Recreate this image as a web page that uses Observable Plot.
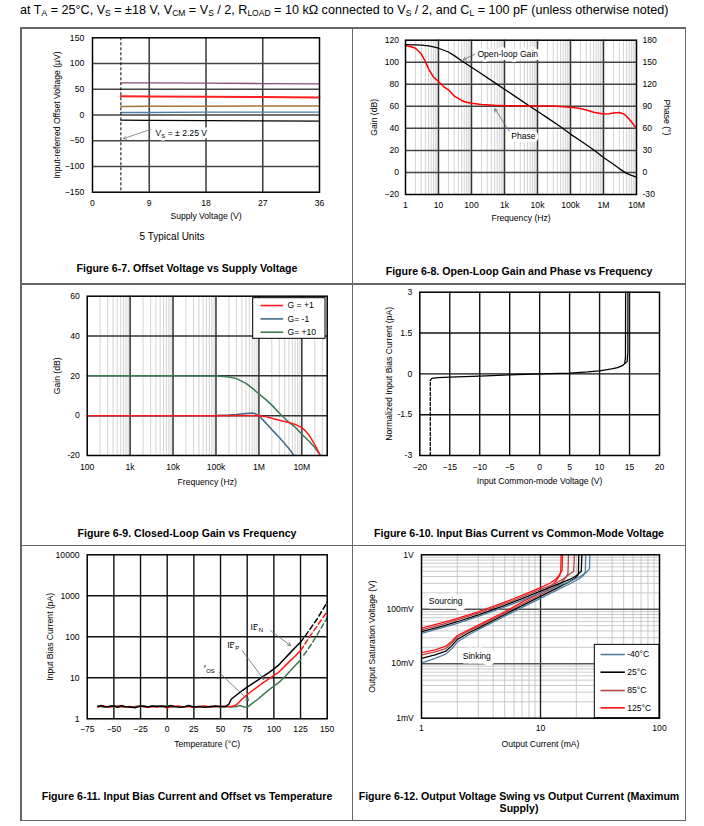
<!DOCTYPE html>
<html><head><meta charset="utf-8">
<script src="https://cdn.jsdelivr.net/npm/d3@7"></script>
<script src="https://cdn.jsdelivr.net/npm/@observablehq/plot@0.6"></script>
<style>
body{margin:0;background:#fff;}
#page{position:relative;width:704px;height:826px;overflow:hidden;font-family:"Liberation Sans",Arial,sans-serif;color:#000;background:#fff;}
.ln{position:absolute;background:#666;z-index:5;}
.cap{position:absolute;font-weight:bold;font-size:10.6px;text-align:center;line-height:12.5px;white-space:nowrap;}
.hdr{position:absolute;left:20px;top:3px;font-size:12.6px;line-height:15px;white-space:nowrap;}
.hdr sub{font-size:8.5px;vertical-align:-2px;line-height:0;}
.note{position:absolute;font-size:10px;text-align:center;white-space:nowrap;}
</style></head><body><div id="page"></div>
<script>
// ---------- Fig 6-7: Offset voltage vs supply voltage ----------
const p1Supply = [4.5, 9, 18, 27, 36];
const p1Unit1 = [62.5, 62.5, 62, 61, 60.5];
const p1Unit2 = [36.5, 36, 35.5, 35, 34];
const p1Unit3 = [16.5, 17, 17, 17.5, 17.5];
const p1Unit4 = [5, 5, 5.5, 5.5, 5.5];
const p1Unit5 = [-10, -10.5, -11, -11.5, -12];
const p1XTicks = [0, 9, 18, 27, 36];
const p1YTicks = [-150, -100, -50, 0, 50, 100, 150];
const p1YLabels = ["−150", "−100", "−50", "0", "50", "100", "150"];
const p1GridX = [9, 18, 27];
const p1GridY = [-100, -50, 0, 50, 100];
const p1Arrow = [{x1: 9.2, y1: -28, x2: 4.9, y2: -46}];
const p1Note = [{x: 10, y: -35, t: "V_S = ± 2.25 V"}];

// ---------- Fig 6-8: Open-loop gain and phase ----------
const olFreq = [1,2,3,5,7,10,20,30,50,100,200,500,1e3,2e3,5e3,1e4,2e4,5e4,1e5,2e5,5e5,1e6,2e6,3e6,5e6,7e6,1e7];
const olGain = [116,115.8,115.6,114.9,114,112.7,109.3,106,101.4,95.5,89.5,81.5,75.5,69.5,61.5,55.5,49.5,41.5,34.8,28.7,20.6,13.5,7.5,3.5,-0.8,-2.7,-4.3];
const phFreq = [1,1.5,2,3,4,5,7,10,15,20,30,50,70,100,200,500,1e3,1e4,3e4,1e5,2e5,3e5,5e5,1e6,1.5e6,2e6,3e6,4e6,5e6,7e6,1e7];
const phDeg = [172.8,171,169,161.5,151,141,130,123.7,116,112.5,104,98,95.5,94.2,92.5,91.3,90.8,90.5,90.3,88.8,87,85,82,79.5,79.8,81,81.5,80,76.5,69,60];
const p2XTicks = [1,10,100,1e3,1e4,1e5,1e6,1e7];
const p2XLabels = ["1","10","100","1k","10k","100k","1M","10M"];
const p2GainTicks = [-20,0,20,40,60,80,100,120];
const p2GainLabels = ["−20","0","20","40","60","80","100","120"];
const p2PhaseLabels = ["-30","0","30","60","90","120","150","180"];
const p2Decades = [1,10,100,1e3,1e4,1e5,1e6];
const minorSteps = [2,3,4,5,6,7,8,9];
const p2GridY = [0,20,40,60,80,100];
const p2Notes = [{x: 151, y: 107.7, t: "Open-loop Gain"}, {x: 1600, y: 32.6, t: "Phase"}];
const p2Arrows = [{x1: 138, y1: 107.9, x2: 56, y2: 102.2}, {x1: 1420, y1: 37.2, x2: 508, y2: 57.7}];

// ---------- Fig 6-9: Closed-loop gain ----------
const g10Freq = [100,1e3,1e4,1e5,1.5e5,2e5,3e5,5e5,7e5,1e6,1.5e6,2e6,3e6,5e6,7e6,1e7,1.5e7,2e7,2.7e7];
const g10Gain = [20,20,20,19.9,19.7,19.4,18.6,16.2,13.8,11,7.8,5.3,1.2,-3.3,-5.8,-9.3,-13,-16,-20];
const g1Freq = [100,1e3,1e4,1e5,5e5,1e6,1.5e6,2e6,3e6,5e6,7e6,1e7,1.2e7,1.5e7,2e7,2.7e7];
const g1Gain = [0,0,0,0,0.1,0,-0.6,-1.3,-2.3,-3.4,-4.4,-6,-7.5,-10,-14.5,-20];
const gm1Freq = [100,1e3,1e4,1e5,2e5,3e5,5e5,7e5,8e5,1e6,1.5e6,2e6,3e6,5e6,6.6e6];
const gm1Gain = [0,0,0,0.1,0.3,0.6,1.1,1.3,1.1,0,-4,-7,-11,-16.5,-20];
const p3Names = ["G = +1", "G= -1", "G= +10"];
const p3XTicks = [100,1e3,1e4,1e5,1e6,1e7];
const p3XLabels = ["100","1k","10k","100k","1M","10M"];
const p3YTicks = [-20,0,20,40,60];
const p3YLabels = ["-20","0","20","40","60"];
const p3Decades = [100,1e3,1e4,1e5,1e6,1e7];
const p3GridY = [0,20,40];

// ---------- Fig 6-10: Input bias current vs common-mode voltage ----------
const ibDashV = [-18.25, -18.25];
const ibDashI = [-3, -0.25];
const ibV = [-18.25,-18.0,-17,-15,-10,-5,0,5,8,10,12,13,13.8,14.2,14.32,14.35];
const ibI = [-0.25,-0.17,-0.14,-0.12,-0.08,-0.04,0,0.03,0.07,0.11,0.18,0.23,0.3,0.38,0.6,3.2];
const ibV2 = [14.2,14.6,14.72,14.73];
const ibI2 = [0.38,0.45,0.8,3.2];
const p4XTicks = [-20,-15,-10,-5,0,5,10,15,20];
const p4XLabels = ["−20","−15","−10","−5","0","5","10","15","20"];
const p4YTicks = [-3,-1.5,0,1.5,3];
const p4YLabels = ["-3","-1.5","0","1.5","3"];
const p4GridX = [-15,-10,-5,0,5,10,15];
const p4GridY = [-1.5,0,1.5];

// ---------- Fig 6-11: Input bias current vs temperature ----------
const ibnT = [-65,-62,-58,-55,-50,-47,-43,-40,-35,-30,-27,-22,-18,-14,-10,-5,0,3,7,12,17,20,25,30,35,40,45,50,55,58,60,65,70,75,80,85,90,95,100,105,110,115,120,125];
const ibnV = [2.0,2.1,1.95,2.0,2.05,1.9,2.1,2.0,1.95,1.85,2.0,2.05,1.95,2.05,2.0,2.05,1.95,2.1,2.0,1.9,2.0,2.1,1.95,2.0,1.9,2.0,2.05,2.0,2.0,2.3,3.0,3.8,4.8,5.9,7.2,8.8,10.8,13.2,16.5,21,29,40,55,74];
const ibnTd = [125,130,135,140,145,150];
const ibnVd = [74,110,170,260,420,700];
const ibpT = [-65,-60,-55,-50,-45,-40,-35,-30,-25,-20,-15,-10,-5,0,5,10,15,20,25,30,35,40,45,50,55,60,62,65,70,75,80,85,90,95,100,105,110,115,120,125];
const ibpV = [1.95,2.1,1.9,2.0,2.05,1.95,2.0,1.9,2.05,1.95,2.0,1.95,2.05,1.85,2.0,2.05,1.95,2.0,1.9,2.0,2.05,1.95,2.0,2.0,2.0,2.0,2.05,2.2,3.0,3.9,4.9,6.1,7.6,9.3,11.4,14,19,25.5,34,46];
const ibpTd = [125,130,135,140,145,150];
const ibpVd = [46,72,115,175,270,420];
const iosT = [-65,-60,-55,-50,-45,-40,-35,-30,-25,-20,-15,-10,-5,0,5,10,15,20,25,30,35,40,45,50,55,60,65,68,72,75,80,85,90,95,100,105,110,115,120,125];
const iosV = [2.05,1.95,2.0,2.1,1.95,2.0,1.9,2.0,2.05,1.95,2.0,2.05,1.95,2.1,1.95,2.0,1.95,2.05,1.9,1.95,2.0,1.9,2.0,1.95,2.0,1.95,2.0,2.1,1.95,1.9,2.4,3.0,3.9,5.0,6.3,7.8,10.5,14.5,20,27];
const iosTd = [128,130,135,140,145,150];
const iosVd = [36,42,65,105,175,290];
const p5XTicks = [-75,-50,-25,0,25,50,75,100,125,150];
const p5XLabels = ["−75","−50","−25","0","25","50","75","100","125","150"];
const p5YTicks = [1,10,100,1000,10000];
const p5YLabels = ["1","10","100","1000","10000"];
const p5GridX = [-50,-25,0,25,50,75,100,125];
const p5GridY = [10,100,1000];
const p5Notes = [{x: 78.1, y: 171, t: "IB_N"}, {x: 56.2, y: 61, t: "IB_P"}, {x: 34.3, y: 17.1, t: "I_OS"}];
const p5Arrows = [{x1: 96.8, y1: 142, x2: 115.6, y2: 61}, {x1: 70.3, y1: 46, x2: 90.6, y2: 9.1}, {x1: 48.4, y1: 13.7, x2: 76.5, y2: 2.8}];

// ---------- Fig 6-12: Output voltage swing vs output current ----------
const tempNames = ["-40°C", "25°C", "85°C", "125°C"];
const srcM40 = [[1,0.036],[1.5,0.046],[2,0.055],[3,0.074],[5,0.11],[7,0.146],[10,0.2],[14,0.27],[18,0.33],[21.5,0.4],[24.5,0.48],[25.8,0.55],[26,1.05]];
const src25 = [[1,0.039],[1.5,0.049],[2,0.059],[3,0.079],[5,0.118],[7,0.157],[10,0.215],[14,0.29],[18,0.36],[20.5,0.43],[22,0.5],[22.3,1.05]];
const src85 = [[1,0.042],[1.5,0.053],[2,0.064],[3,0.085],[5,0.127],[7,0.168],[10,0.232],[13,0.29],[15.5,0.36],[17.5,0.44],[19,0.5],[19.3,1.05]];
const src125 = [[1,0.045],[1.5,0.057],[2,0.068],[3,0.09],[5,0.135],[7,0.18],[10,0.25],[12,0.3],[13.5,0.36],[14.5,0.43],[15.2,0.52],[15.3,1.05]];
const snkM40 = [[1,0.0103],[1.3,0.0125],[1.6,0.015],[1.8,0.019],[2,0.025],[2.5,0.034],[3,0.042],[5,0.075],[7,0.108],[10,0.158],[14,0.23],[18,0.3],[21,0.36],[23,0.42],[23.8,0.48],[24,1.05]];
const snk25 = [[1,0.0125],[1.3,0.0145],[1.6,0.017],[1.8,0.0215],[2,0.028],[2.5,0.037],[3,0.045],[5,0.08],[7,0.117],[10,0.172],[14,0.25],[17,0.31],[19.5,0.37],[20.8,0.44],[21,1.05]];
const snk85 = [[1,0.0145],[1.3,0.0165],[1.6,0.019],[1.8,0.024],[2,0.031],[2.5,0.04],[3,0.048],[5,0.085],[7,0.125],[10,0.185],[13,0.25],[15,0.31],[16.3,0.38],[17,0.45],[17.2,1.05]];
const snk125 = [[1,0.016],[1.3,0.018],[1.6,0.021],[1.8,0.026],[2,0.033],[2.5,0.042],[3,0.051],[5,0.09],[7,0.135],[10,0.2],[12,0.255],[13.5,0.33],[14.5,0.42],[14.8,0.5],[14.9,1.05]];
const p6XTicks = [1,10,100];
const p6XLabels = ["1","10","100"];
const p6YTicks = [0.001,0.01,0.1,1];
const p6YLabels = ["1mV","10mV","100mV","1V"];
const p6DecX = [1,10];
const p6DecY = [0.001,0.01,0.1];
const p6Notes = [{x: 1.15, y: 0.138, t: "Sourcing"}, {x: 2.22, y: 0.0136, t: "Sinking"}];

// ---------- helpers ----------
const page = document.getElementById("page");
const FONT = "'Liberation Sans', Arial, Helvetica, sans-serif";
const rows = (xs, ys) => xs.map((x, i) => ({x, y: ys[i]}));
const pairs = (arr) => arr.map(([x, y]) => ({x, y}));
const minors = (decs) => decs.flatMap(d => minorSteps.map(m => d * m));
const axX = (ticks, labels, pad) => Plot.axisX({ticks, tickFormat: d => labels[ticks.indexOf(d)], tickSize: 0, tickPadding: pad, label: null});
const axY = (ticks, labels, pad, anchor = "left") => Plot.axisY({anchor, ticks, tickFormat: d => labels[ticks.indexOf(d)], tickSize: 0, tickPadding: pad, label: null});
const titleX = (t, dy) => Plot.text([t], {frameAnchor: "bottom", dy, text: d => d, lineAnchor: "middle", textAnchor: "middle"});
const titleY = (t, dx, rot = -90, anchor = "left") => Plot.text([t], {frameAnchor: anchor, dx, rotate: rot, text: d => d, lineAnchor: "middle", textAnchor: "middle"});
const frame = () => Plot.frame({stroke: "#000", strokeWidth: 1.5});

function subify(svg) {
  d3.select(svg).selectAll("text").each(function () {
    const s = this.textContent;
    if (!s.includes("_") || this.querySelector("tspan")) return;
    const parts = s.split(/_([A-Za-z]+)/);
    const el = d3.select(this);
    el.text(null);
    el.append("tspan").text(parts[0]);
    el.append("tspan").attr("dy", 1.8).attr("font-size", 6).text(parts[1]);
    if (parts[2]) el.append("tspan").attr("dy", -1.8).text(parts[2]);
  });
}
function place(opts, left, top) {
  const svg = Plot.plot({...opts, style: {fontFamily: FONT, fontSize: "8.6px", background: "transparent", overflow: "visible", color: "#000"}});
  svg.style.position = "absolute";
  svg.style.left = left + "px";
  svg.style.top = top + "px";
  subify(svg);
  page.append(svg);
}

// ---------- Panel 1 ----------
const p1Series = [p1Unit1, p1Unit2, p1Unit3, p1Unit4, p1Unit5];
const p1Colors = ["#8a4a78", "#ff2020", "#a2743e", "#4d80a3", "#000000"];
const p1Widths = [1.4, 2, 1.4, 1.4, 1.2];
place({
  width: 332, height: 200, marginLeft: 72, marginRight: 33, marginTop: 9.3, marginBottom: 36.3,
  x: {domain: [0, 36]}, y: {domain: [-150, 150]},
  marks: [
    Plot.ruleX(p1GridX, {stroke: "#444", strokeWidth: 1.6}),
    Plot.ruleY(p1GridY, {stroke: "#444", strokeWidth: 1.6}),
    ...p1Series.map((s, i) => Plot.line(rows(p1Supply, s), {x: "x", y: "y", stroke: p1Colors[i], strokeWidth: p1Widths[i]})),
    Plot.ruleX([p1Supply[0]], {stroke: "#000", strokeWidth: 1, strokeDasharray: "3,2"}),
    Plot.arrow(p1Arrow, {x1: "x1", y1: "y1", x2: "x2", y2: "y2", stroke: "#777", strokeWidth: 0.8, headLength: 6}),
    Plot.text(p1Note, {x: "x", y: "y", text: "t", textAnchor: "start", fill: "#000", stroke: "white", strokeWidth: 5}),
    frame(),
    axX(p1XTicks, p1XTicks.map(String), 7.5),
    axY(p1YTicks, p1YLabels, 8.3),
    titleX("Supply Voltage (V)", 24),
    titleY("Input-referred Offset Voltage (µV)", -35)
  ]
}, 20, 28);

// ---------- Panel 2 ----------
const toGain = p => (p + 30) / 1.5 - 20;
place({
  width: 334, height: 200, marginLeft: 53, marginRight: 50, marginTop: 11.7, marginBottom: 34,
  x: {type: "log", domain: [1, 1e7]}, y: {domain: [-20, 120]},
  marks: [
    Plot.ruleX(minors(p2Decades), {stroke: "#c8c8c8", strokeWidth: 0.8}),
    Plot.ruleX(p2XTicks.slice(1, -1), {stroke: "#333", strokeWidth: 1.5}),
    Plot.ruleY(p2GridY, {stroke: "#444", strokeWidth: 1.5}),
    Plot.line(rows(olFreq, olGain), {x: "x", y: "y", stroke: "#000", strokeWidth: 1.3}),
    Plot.line(rows(phFreq, phDeg), {x: "x", y: d => toGain(d.y), stroke: "#ff0000", strokeWidth: 1.5}),
    Plot.arrow(p2Arrows, {x1: "x1", y1: "y1", x2: "x2", y2: "y2", stroke: "#666", strokeWidth: 0.8, headLength: 6}),
    Plot.text(p2Notes, {x: "x", y: "y", text: "t", textAnchor: "start", fill: "#000", stroke: "white", strokeWidth: 6}),
    frame(),
    axX(p2XTicks, p2XLabels, 7),
    axY(p2GainTicks, p2GainLabels, 6.5),
    axY(p2GainTicks, p2PhaseLabels, 6, "right"),
    titleX("Frequency (Hz)", 23.7),
    titleY("Gain (dB)", -31),
    titleY("Phase (°)", 30.7, 90, "right")
  ]
}, 352, 28);

// ---------- Panel 3 ----------
const p3Colors = ["#ff1a1a", "#3f6a8a", "#3a7a55"];
const p3Data = [rows(g1Freq, g1Gain), rows(gm1Freq, gm1Gain), rows(g10Freq, g10Gain)];
const p3LegendRows = [55.3, 48.6, 41.9];
place({
  width: 332, height: 206, marginLeft: 66.7, marginRight: 25.3, marginTop: 11.7, marginBottom: 35,
  x: {type: "log", domain: [100, 3.9e7]}, y: {domain: [-20, 60]},
  marks: [
    Plot.ruleX(minors(p3Decades).filter(v => v < 3.9e7), {stroke: "#c8c8c8", strokeWidth: 0.8}),
    Plot.ruleX(p3XTicks.slice(1), {stroke: "#333", strokeWidth: 1.5}),
    Plot.ruleY(p3GridY, {stroke: "#333", strokeWidth: 1.5}),
    Plot.line(p3Data[2], {x: "x", y: "y", stroke: p3Colors[2], strokeWidth: 1.5, clip: true}),
    Plot.line(p3Data[1], {x: "x", y: "y", stroke: p3Colors[1], strokeWidth: 1.5, clip: true}),
    Plot.line(p3Data[0], {x: "x", y: "y", stroke: p3Colors[0], strokeWidth: 1.5, clip: true}),
    Plot.rect([{x1: 7.36e5, x2: 3.56e7, y1: 59, y2: 38.6}], {x1: "x1", x2: "x2", y1: "y1", y2: "y2", fill: "white", stroke: "#000", strokeWidth: 1}),
    Plot.link(p3Names.map((n, i) => ({x1: 1.09e6, x2: 3.66e6, y: p3LegendRows[i], c: p3Colors[i]})), {x1: "x1", x2: "x2", y1: "y", y2: "y", stroke: "c", strokeWidth: 1.6}),
    Plot.text(p3Names.map((n, i) => ({x: 4.63e6, y: p3LegendRows[i], t: n})), {x: "x", y: "y", text: "t", textAnchor: "start", fill: "#000"}),
    frame(),
    axX(p3XTicks, p3XLabels, 8.5),
    axY(p3YTicks, p3YLabels, 7.4),
    titleX("Frequency (Hz)", 26.7),
    titleY("Gain (dB)", -30)
  ]
}, 20, 284);

// ---------- Panel 4 ----------
place({
  width: 334, height: 206, marginLeft: 67.3, marginRight: 27, marginTop: 7.7, marginBottom: 35,
  x: {domain: [-20, 20]}, y: {domain: [-3, 3]},
  marks: [
    Plot.ruleX(p4GridX, {stroke: "#111", strokeWidth: 1.4}),
    Plot.ruleY(p4GridY, {stroke: "#111", strokeWidth: 1.4}),
    Plot.line(rows(ibDashV, ibDashI), {x: "x", y: "y", stroke: "#000", strokeWidth: 1.3, strokeDasharray: "3,2"}),
    Plot.line(rows(ibV, ibI), {x: "x", y: "y", stroke: "#000", strokeWidth: 1.3, clip: true}),
    Plot.line(rows(ibV2, ibI2), {x: "x", y: "y", stroke: "#000", strokeWidth: 1.2, clip: true}),
    frame(),
    axX(p4XTicks, p4XLabels, 8.5),
    axY(p4YTicks, p4YLabels, 7.6),
    titleX("Input Common-mode Voltage (V)", 26),
    titleY("Normalized Input Bias Current (pA)", -31)
  ]
}, 352, 284);

// ---------- Panel 5 ----------
place({
  width: 332, height: 210, marginLeft: 66.7, marginRight: 25.3, marginTop: 8.3, marginBottom: 37.7,
  x: {domain: [-75, 150]}, y: {type: "log", domain: [1, 10000]},
  marks: [
    Plot.ruleX(p5GridX, {stroke: "#111", strokeWidth: 1.4}),
    Plot.ruleY(p5GridY, {stroke: "#111", strokeWidth: 1.4}),
    Plot.line(rows(iosT, iosV), {x: "x", y: "y", stroke: "#3a7a50", strokeWidth: 1.5}),
    Plot.line(rows(iosTd, iosVd), {x: "x", y: "y", stroke: "#3a7a50", strokeWidth: 1.5, strokeDasharray: "5,3"}),
    Plot.line(rows(ibpT, ibpV), {x: "x", y: "y", stroke: "#ff1a1a", strokeWidth: 1.5}),
    Plot.line(rows(ibpTd, ibpVd), {x: "x", y: "y", stroke: "#ff1a1a", strokeWidth: 1.5, strokeDasharray: "5,3"}),
    Plot.line(rows(ibnT, ibnV), {x: "x", y: "y", stroke: "#000", strokeWidth: 1.5}),
    Plot.line(rows(ibnTd, ibnVd), {x: "x", y: "y", stroke: "#000", strokeWidth: 1.5, strokeDasharray: "5,3"}),
    Plot.arrow(p5Arrows, {x1: "x1", y1: "y1", x2: "x2", y2: "y2", stroke: "#666", strokeWidth: 0.8, headLength: 6}),
    Plot.text(p5Notes, {x: "x", y: "y", text: "t", textAnchor: "start", fill: "#000", stroke: "white", strokeWidth: 6}),
    frame(),
    axX(p5XTicks, p5XLabels, 7),
    axY(p5YTicks, p5YLabels, 7.7),
    titleX("Temperature (°C)", 25),
    titleY("Input Bias Current (pA)", -37.4)
  ]
}, 20, 546);

// ---------- Panel 6 ----------
const p6Colors = ["#4f7f9f", "#000000", "#b84545", "#ff1010"];
const p6Src = [srcM40, src25, src85, src125];
const p6Snk = [snkM40, snk25, snk85, snk125];
const p6LegendRows = [0.01475, 0.00699, 0.00322, 0.00155];
place({
  width: 334, height: 210, marginLeft: 69, marginRight: 27, marginTop: 8.3, marginBottom: 38.3,
  x: {type: "log", domain: [1, 100]}, y: {type: "log", domain: [0.001, 1]},
  marks: [
    Plot.ruleX(minors(p6DecX), {stroke: "#bdbdbd", strokeWidth: 0.8}),
    Plot.ruleY(minors(p6DecY), {stroke: "#bdbdbd", strokeWidth: 0.8}),
    Plot.ruleX([10], {stroke: "#222", strokeWidth: 1.4}),
    Plot.ruleY([0.01, 0.1], {stroke: "#555", strokeWidth: 1.6}),
    ...p6Snk.map((s, i) => Plot.line(pairs(s), {x: "x", y: "y", stroke: p6Colors[i], strokeWidth: 1.3, clip: true})),
    ...p6Src.map((s, i) => Plot.line(pairs(s), {x: "x", y: "y", stroke: p6Colors[i], strokeWidth: 1.3, clip: true})),
    Plot.text(p6Notes, {x: "x", y: "y", text: "t", textAnchor: "start", fill: "#000", stroke: "white", strokeWidth: 9}),
    Plot.rect([{x1: 28.6, x2: 100, y1: 0.0222, y2: 0.001}], {x1: "x1", x2: "x2", y1: "y1", y2: "y2", fill: "white", stroke: "#000", strokeWidth: 1}),
    Plot.link(tempNames.map((n, i) => ({x1: 31.9, x2: 51.1, y: p6LegendRows[i], c: p6Colors[i]})), {x1: "x1", x2: "x2", y1: "y", y2: "y", stroke: "c", strokeWidth: 1.6}),
    Plot.text(tempNames.map((n, i) => ({x: 53.5, y: p6LegendRows[i], t: n})), {x: "x", y: "y", text: "t", textAnchor: "start", fill: "#000"}),
    frame(),
    axX(p6XTicks, p6XLabels, 7),
    axY(p6YTicks, p6YLabels, 7.7),
    titleX("Output Current (mA)", 25.6),
    titleY("Output Saturation Voltage (V)", -49.3)
  ]
}, 352, 546);

// ---------- page furniture ----------
function line(l, t, w, h) { const d = document.createElement("div"); d.className = "ln"; Object.assign(d.style, {left: l + "px", top: t + "px", width: w + "px", height: h + "px"}); page.append(d); }
line(20, 27, 666, 1.5); line(20, 283, 666, 1.5); line(20, 544.5, 666, 1.5); line(20, 819.5, 666, 1.5);
line(20, 27, 1.5, 794); line(684.5, 27, 1.5, 794); line(351.5, 27, 1.5, 794);

function html(cls, l, t, w, inner) { const d = document.createElement("div"); d.className = cls; Object.assign(d.style, {left: l + "px", top: t + "px", width: w + "px"}); d.innerHTML = inner; page.append(d); }
html("hdr", 20, 3, 680, "at T<sub>A</sub> = 25°C, V<sub>S</sub> = ±18 V, V<sub>CM</sub> = V<sub>S</sub> / 2, R<sub>LOAD</sub> = 10 kΩ connected to V<sub>S</sub> / 2, and C<sub>L</sub> = 100 pF (unless otherwise noted)");
html("note", 112, 231, 120, "5 Typical Units");
html("cap", 20, 261.5, 334, "Figure 6-7. Offset Voltage vs Supply Voltage");
html("cap", 352, 264.5, 334, "Figure 6-8. Open-Loop Gain and Phase vs Frequency");
html("cap", 20, 526.5, 334, "Figure 6-9. Closed-Loop Gain vs Frequency");
html("cap", 352, 526.5, 334, "Figure 6-10. Input Bias Current vs Common-Mode Voltage");
html("cap", 20, 789.5, 334, "Figure 6-11. Input Bias Current and Offset vs Temperature");
html("cap", 352, 789.5, 334, "Figure 6-12. Output Voltage Swing vs Output Current (Maximum<br>Supply)");
</script></body></html>
